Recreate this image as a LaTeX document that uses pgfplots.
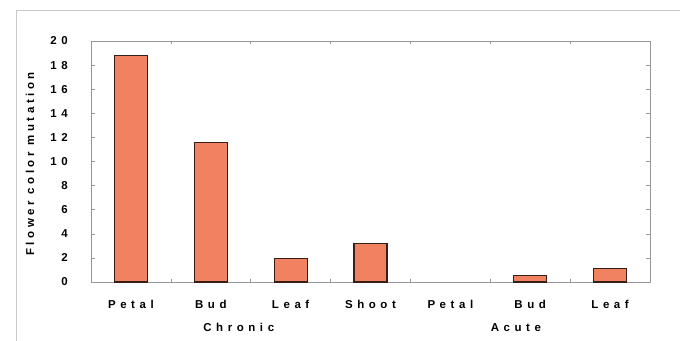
\documentclass[border=0pt]{standalone}
\usepackage{fontspec}
\setmainfont{Liberation Sans}
\newfontfamily\lab{Liberation Sans}[LetterSpace=40]
\newfontfamily\ylab{Liberation Sans}[LetterSpace=31]
\usepackage{pgfplots}
\pgfplotsset{compat=1.18}
\definecolor{barfill}{RGB}{240,130,98}
\definecolor{baredge}{RGB}{55,30,22}
\definecolor{framegray}{RGB}{150,150,150}
\definecolor{outergray}{RGB}{200,200,200}
\begin{document}
\begin{tikzpicture}
\useasboundingbox (0,0) rectangle (680bp,341bp);
\fill[white] (0,0) rectangle (680bp,341bp);
\draw[outergray, line width=1bp] (16bp,0) -- (16bp,330bp) -- (680bp,330bp);
\begin{axis}[
  at={(91bp,59bp)}, anchor=south west,
  scale only axis, width=559bp, height=241bp,
  xmin=-0.5, xmax=6.5, ymin=0, ymax=20,
  axis line style={framegray, line width=0.8bp},
  ytick={0,2,...,20},
  xtick={0,1,2,3,4,5,6},
  xticklabels={Petal,Bud,Leaf,Shoot,Petal,Bud,Leaf},
  /pgf/number format/assume math mode=true,
  tick align=inside,
  ytick style={framegray, line width=0.5bp},
  major tick length=4bp,
  xtick style={draw=none},
  extra x ticks={0.5,1.5,2.5,3.5,4.5,5.5},
  extra x tick labels={},
  extra x tick style={xtick style={draw=framegray, line width=0.6bp}, major tick length=3bp},
  xticklabel style={font=\lab\bfseries\fontsize{11.5}{12}\selectfont, anchor=base, yshift=-26bp, inner sep=0pt},
  yticklabel style={font=\lab\bfseries\fontsize{11.5}{12}\selectfont, anchor=east, inner sep=0pt, xshift=-23bp},
  ylabel={Flower color mutation},
  ylabel style={font=\ylab\bfseries\fontsize{11.5}{12}\selectfont, at={(axis description cs:-0.109,0.49)}, anchor=center},
  clip=false,
]
% Acute Petal has a value of 0 and draws no bar
\addplot[ybar, bar width=33bp, fill=barfill, draw=baredge, line width=1.2bp]
  coordinates {(0,18.8) (1,11.55) (2,1.95) (3,3.2) (5,0.55) (6,1.15)};
\node[font=\lab\bfseries\fontsize{11.5}{12}\selectfont, anchor=base] at ([yshift=-49bp]axis cs:1.35,0) {Chronic};
\node[font=\lab\bfseries\fontsize{11.5}{12}\selectfont, anchor=base] at ([yshift=-49bp]axis cs:4.82,0) {Acute};
\end{axis}
\end{tikzpicture}
\end{document}
